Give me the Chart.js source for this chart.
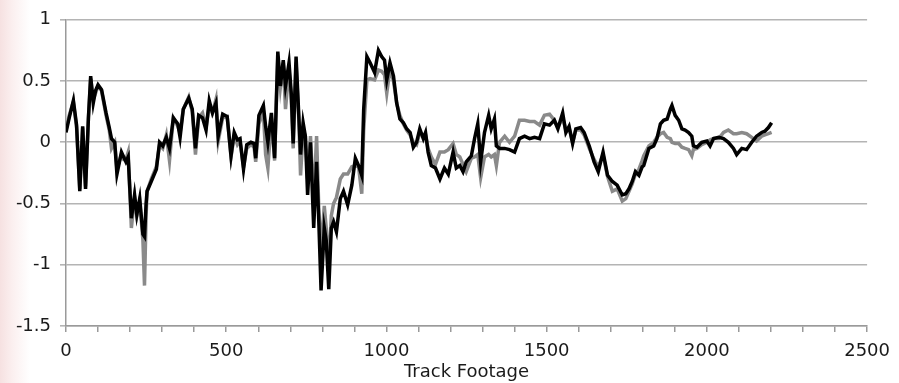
<!DOCTYPE html>
<html lang="en">
<head>
    <script src="https://cdn.jsdelivr.net/npm/chart.js@4.4.1/dist/chart.umd.min.js"></script>
    <title>Track Footage</title>
    <style>
        html, body { margin: 0; padding: 0; }
        body {
            width: 899px; height: 383px; overflow: hidden;
            background: linear-gradient(to right, #f6e1e1 0px, #fbefef 12px, #ffffff 30px);
        }
        canvas { display: block; }
    </style>
</head>
<body>
<canvas id="myChart" width="899" height="383"></canvas>
<script>
    // track footage positions (ft)
    const footage = [0, 10, 23, 33, 43, 52, 61, 70, 77, 85, 92, 100, 111, 125, 135, 142, 152, 159, 173, 180,
        187, 194, 204, 214, 221, 230, 240, 245, 250, 253, 266, 282, 292, 302, 313, 323, 335, 349, 356, 366,
        383, 394, 404, 414, 426, 437, 447, 457, 468, 475, 489, 503, 515, 525, 535, 543, 554, 564, 577, 587,
        592, 602, 616, 623, 630, 641, 651, 661, 669, 678, 685, 696, 703, 709, 718, 727, 732, 740, 747, 754,
        763, 773, 782, 789, 796, 806, 812, 820, 828, 835, 844, 856, 866, 879, 892, 903, 913, 923, 929, 939,
        949, 963, 975, 985, 994, 1001, 1011, 1022, 1032, 1042, 1053, 1063, 1074, 1084, 1094, 1104, 1115, 1122, 1130, 1140,
        1153, 1167, 1181, 1193, 1208, 1218, 1229, 1239, 1249, 1265, 1275, 1285, 1294, 1306, 1319, 1327, 1337, 1343, 1353, 1369,
        1384, 1400, 1415, 1431, 1447, 1462, 1478, 1493, 1509, 1524, 1535, 1550, 1560, 1570, 1581, 1591, 1606, 1617, 1633, 1648,
        1661, 1676, 1690, 1705, 1720, 1736, 1747, 1757, 1767, 1777, 1788, 1798, 1803, 1819, 1834, 1844, 1855, 1865, 1876, 1886,
        1891, 1901, 1912, 1922, 1932, 1943, 1953, 1958, 1969, 1984, 2000, 2010, 2021, 2037, 2052, 2067, 2083, 2093, 2109, 2124,
        2140, 2155, 2171, 2181, 2192, 2202];

    // black trace
    const blackValues = [0.08, 0.2, 0.34, 0.14, -0.4, 0.13, -0.38, 0.2, 0.54, 0.32, 0.42, 0.47, 0.43, 0.24, 0.12, 0.03, 0, -0.26, -0.08, -0.12,
        -0.16, -0.12, -0.62, -0.43, -0.59, -0.46, -0.75, -0.77, -0.5, -0.4, -0.32, -0.22, 0, -0.03, 0.04, -0.05, 0.2, 0.15, 0.04, 0.27,
        0.36, 0.27, -0.05, 0.22, 0.2, 0.1, 0.34, 0.24, 0.32, 0.05, 0.23, 0.21, -0.11, 0.08, 0.02, 0.03, -0.22, -0.02, 0, -0.01,
        -0.13, 0.22, 0.3, 0.13, 0, 0.24, -0.13, 0.74, 0.46, 0.67, 0.46, 0.65, 0.4, -0.01, 0.7, 0.19, -0.1, 0.16, 0.05, -0.43,
        0, -0.7, -0.16, -0.65, -1.21, -0.7, -0.8, -1.2, -0.7, -0.65, -0.73, -0.46, -0.4, -0.51, -0.35, -0.13, -0.19, -0.27, 0.27, 0.7,
        0.65, 0.57, 0.75, 0.7, 0.67, 0.51, 0.65, 0.54, 0.32, 0.19, 0.16, 0.11, 0.08, -0.04, 0, 0.11, 0.03, 0.08, -0.08, -0.19,
        -0.21, -0.3, -0.21, -0.26, -0.08, -0.21, -0.19, -0.24, -0.16, -0.11, 0.03, 0.15, -0.16, 0.08, 0.22, 0.11, 0.19, -0.03, -0.05, -0.05,
        -0.06, -0.08, 0.03, 0.05, 0.03, 0.04, 0.03, 0.15, 0.14, 0.18, 0.11, 0.24, 0.08, 0.13, -0.01, 0.11, 0.12, 0.08, -0.03, -0.16,
        -0.24, -0.08, -0.27, -0.32, -0.35, -0.43, -0.42, -0.38, -0.32, -0.24, -0.27, -0.2, -0.19, -0.05, -0.03, 0.03, 0.15, 0.18, 0.19, 0.27,
        0.3, 0.22, 0.18, 0.11, 0.1, 0.08, 0.05, -0.03, -0.04, 0, 0.01, -0.03, 0.03, 0.04, 0.03, 0, -0.05, -0.1, -0.05, -0.06,
        0, 0.05, 0.08, 0.09, 0.12, 0.16];

    // grey trace
    const greyValues = [0.1, 0.22, 0.33, 0.12, -0.38, 0.12, -0.36, 0.2, 0.52, 0.35, 0.4, 0.46, 0.42, 0.22, 0.1, -0.05, 0, -0.22, -0.1, -0.14,
        -0.14, -0.08, -0.7, -0.45, -0.6, -0.48, -0.8, -1.17, -0.6, -0.4, -0.3, -0.2, -0.02, -0.05, 0.06, -0.15, 0.2, 0.13, 0.08, 0.27,
        0.37, 0.25, -0.1, 0.2, 0.24, 0.12, 0.3, 0.24, 0.35, 0.01, 0.2, 0.21, -0.12, 0.06, -0.02, 0.01, -0.2, -0.05, -0.02, -0.04,
        -0.16, 0.15, 0.25, -0.1, -0.21, 0.2, -0.15, 0.7, 0.45, 0.65, 0.27, 0.6, 0.35, -0.05, 0.65, 0.15, -0.27, 0.1, 0.05, -0.3,
        0.05, -0.5, 0.05, -0.55, -0.9, -0.52, -0.7, -1.0, -0.6, -0.5, -0.45, -0.3, -0.26, -0.26, -0.2, -0.19, -0.2, -0.42, 0.1, 0.51,
        0.52, 0.51, 0.59, 0.58, 0.55, 0.4, 0.6, 0.5, 0.32, 0.22, 0.15, 0.1, 0.06, 0, -0.02, 0.08, 0.05, 0.06, -0.05, -0.12,
        -0.18, -0.08, -0.08, -0.06, -0.01, -0.1, -0.12, -0.18, -0.24, -0.13, -0.12, -0.1, -0.29, -0.12, -0.1, -0.12, -0.1, -0.19, 0, 0.05,
        0, 0.05, 0.18, 0.18, 0.17, 0.17, 0.14, 0.22, 0.23, 0.18, 0.12, 0.2, 0.1, 0.12, 0, 0.1, 0.1, 0.06, -0.05, -0.14,
        -0.2, -0.1, -0.28, -0.4, -0.38, -0.48, -0.46, -0.4, -0.34, -0.26, -0.22, -0.15, -0.11, -0.03, 0, 0.04, 0.07, 0.08, 0.04, 0.03,
        0, -0.01, -0.01, -0.04, -0.05, -0.06, -0.11, -0.06, -0.05, -0.02, 0, 0.02, 0.03, 0.03, 0.08, 0.1, 0.07, 0.07, 0.08, 0.07,
        0.04, 0.01, 0.05, 0.06, 0.07, 0.08];

    const xTicks = [0, 500, 1000, 1500, 2000, 2500];
    const yTicks = [-1.5, -1, -0.5, 0, 0.5, 1];

    const toPoints = vals => footage.map((f, i) => ({x: f, y: vals[i]}));
    const font = {family: "'DejaVu Sans', sans-serif", size: 18};

    new Chart("myChart", {
        type: "line",
        data: {
            datasets: [
                {data: toPoints(blackValues), borderColor: "#000000", borderWidth: 3.5, pointRadius: 0, tension: 0, order: 0},
                {data: toPoints(greyValues), borderColor: "#8a8a8a", borderWidth: 3.5, pointRadius: 0, tension: 0, order: 1}
            ]
        },
        options: {
            responsive: false,
            animation: false,
            layout: {padding: {top: 17, right: 28, left: 0, bottom: 0}},
            plugins: {legend: {display: false}, tooltip: {enabled: false}},
            scales: {
                x: {
                    type: "linear", min: 0, max: 2500,
                    afterBuildTicks: s => { s.ticks = []; for (let v = 0; v <= 2500; v += 100) s.ticks.push({value: v}); },
                    afterFit: s => { s.height = 57; },
                    ticks: {
                        autoSkip: false, maxRotation: 0, padding: 9, color: "#1a1a1a", font: font,
                        callback: v => xTicks.includes(v) ? String(v) : ""
                    },
                    grid: {drawOnChartArea: false, drawTicks: true, tickLength: 6, color: "#9a9a9a", lineWidth: 1.5},
                    border: {color: "#9a9a9a", width: 1.5},
                    title: {display: true, text: "Track Footage", color: "#1a1a1a", font: font, padding: {top: 0, bottom: 0}}
                },
                y: {
                    min: -1.5, max: 1,
                    afterBuildTicks: s => { s.ticks = yTicks.map(v => ({value: v})); },
                    afterFit: s => { s.width = 66; },
                    ticks: {autoSkip: false, padding: 9, color: "#1a1a1a", font: font, callback: v => String(v)},
                    grid: {color: "#b4b4b4", lineWidth: 1.6, tickLength: 6},
                    border: {color: "#9a9a9a", width: 1.5}
                }
            }
        }
    });
</script>
</body>
</html>
